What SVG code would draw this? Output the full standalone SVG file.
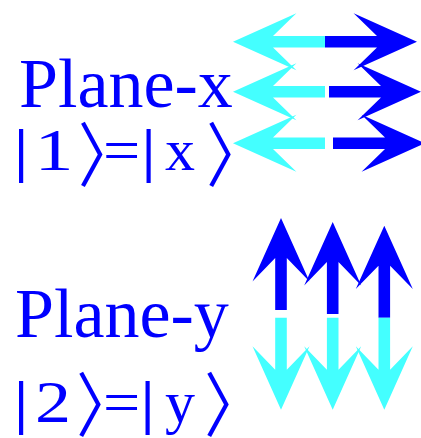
<svg xmlns="http://www.w3.org/2000/svg" xmlns:xlink="http://www.w3.org/1999/xlink" width="421" height="438" viewBox="0 0 421 438">
<style>
.t{font-family:"Liberation Serif","Times New Roman",serif;fill:#0000ff}
.big{font-size:70px}
.m{font-size:60px;text-anchor:middle}
.bar{font-weight:bold}
.br{font-family:"Noto Sans CJK JP","Noto Sans CJK SC",sans-serif;font-weight:400;font-size:70px;fill:#0000ff}
.c{fill:#44ffff}
.b{fill:#0000ff}
</style>
<defs>
<path id="arr" d="M0,-5.8 L52,-5.8 L28.6,-28.5 L92,0 L28.6,28.5 L52,5.8 L0,5.8 Z"/>
</defs>
<rect width="421" height="438" fill="#ffffff"/>
<g id="label-plane-x">
<text class="t big" x="19" y="107">Plane-x</text>
<text class="t m bar" x="21" y="170">|</text>
<text class="t m" transform="translate(54,170) scale(1.3,1)">1</text>
<text class="br" transform="translate(78,180.7) scale(0.85,1)">〉</text>
<text class="t m" transform="translate(121.5,170) scale(1.1,1)">=</text>
<text class="t m bar" x="148.5" y="170">|</text>
<text class="t m" x="180" y="170">x</text>
<text class="br" transform="translate(206.3,180.7) scale(0.85,1)">〉</text>
</g>
<g id="label-plane-y">
<text class="t big" x="15" y="337">Plane-y</text>
<text class="t m bar" x="21" y="422">|</text>
<text class="t m" transform="translate(53,422) scale(1.2,1)">2</text>
<text class="br" transform="translate(76.3,431) scale(0.85,1)">〉</text>
<text class="t m" transform="translate(121.5,422) scale(1.1,1)">=</text>
<text class="t m bar" x="147.5" y="422">|</text>
<text class="t m" x="180" y="422">y</text>
<text class="br" transform="translate(204.3,431) scale(0.85,1)">〉</text>
</g>
<g id="arrows-x">
<use xlink:href="#arr" class="c" transform="translate(325,41.7) rotate(180)"/>
<use xlink:href="#arr" class="c" transform="translate(325,91.7) rotate(180)"/>
<use xlink:href="#arr" class="c" transform="translate(325,143.3) rotate(180)"/>
<use xlink:href="#arr" class="b" transform="translate(325,41.7)"/>
<use xlink:href="#arr" class="b" transform="translate(329,91.7)"/>
<use xlink:href="#arr" class="b" transform="translate(333,143.3)"/>
</g>
<g id="arrows-y">
<use xlink:href="#arr" class="b" transform="translate(281,310) rotate(-90)"/>
<use xlink:href="#arr" class="b" transform="translate(332.7,314) rotate(-90)"/>
<use xlink:href="#arr" class="b" transform="translate(384.3,317.7) rotate(-90)"/>
<use xlink:href="#arr" class="c" transform="translate(281,317.7) rotate(90)"/>
<use xlink:href="#arr" class="c" transform="translate(332.7,317.7) rotate(90)"/>
<use xlink:href="#arr" class="c" transform="translate(384.3,317.7) rotate(90)"/>
</g>
</svg>
